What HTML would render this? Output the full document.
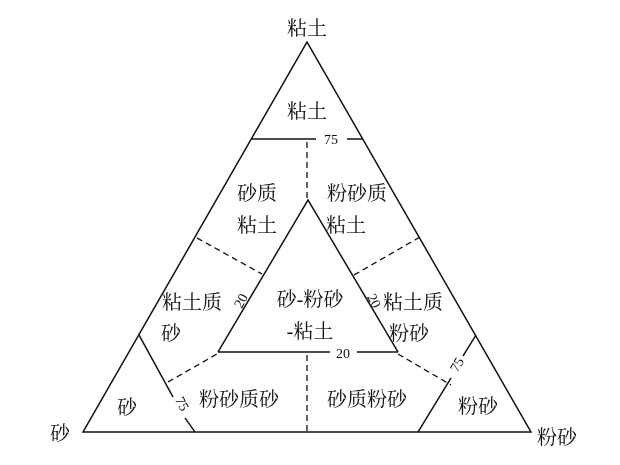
<!DOCTYPE html>
<html><head><meta charset="utf-8"><style>
html,body{margin:0;padding:0;background:#fff;}
svg{display:block}
text{font-family:"Liberation Serif","Noto Serif CJK SC","Noto Sans CJK SC",serif;fill:#111;}
</style></head><body>
<svg width="620" height="465" viewBox="0 0 620 465" xmlns="http://www.w3.org/2000/svg">
<g stroke="#111" stroke-width="1.5" fill="none">
<polygon points="307,42 83,432 531,432"/>
<line x1="251" y1="139" x2="316" y2="139"/><line x1="347" y1="139" x2="363" y2="139"/>
<polyline points="218,352 308,200 398,352"/>
<line x1="218" y1="352" x2="330" y2="352"/><line x1="357" y1="352" x2="398" y2="352"/>
<line x1="139" y1="335" x2="173" y2="397"/><line x1="185" y1="418" x2="195" y2="432"/>
<line x1="476" y1="335" x2="463" y2="356"/><line x1="451" y1="378" x2="418" y2="432"/>
</g>
<g stroke="#111" stroke-width="1.3" fill="none" stroke-dasharray="6,4">
<line x1="307" y1="142" x2="307" y2="200"/>
<line x1="307" y1="355" x2="307" y2="432"/>
<line x1="197" y1="238" x2="262" y2="274"/>
<line x1="354" y1="275" x2="420" y2="237"/>
<line x1="168" y1="382" x2="217" y2="354"/>
<line x1="398" y1="354" x2="451" y2="385"/>
</g>
<g font-size="20" text-anchor="middle">
<text x="307" y="35">粘土</text>
<text x="307" y="118">粘土</text>
<text x="257" y="200">砂质</text><text x="257" y="232">粘土</text>
<text x="357" y="200">粉砂质</text><text x="346" y="232">粘土</text>
<text x="192" y="309">粘土质</text><text x="171" y="340">砂</text>
<text x="310" y="306">砂-粉砂</text><text x="310" y="338">-粘土</text>
<text x="413" y="309">粘土质</text><text x="409" y="340">粉砂</text>
<text x="127" y="414">砂</text>
<text x="239" y="406">粉砂质砂</text>
<text x="367" y="406">砂质粉砂</text>
<text x="478" y="413">粉砂</text>
<text x="60" y="440">砂</text>
<text x="557" y="444">粉砂</text>
</g>
<g font-size="14" text-anchor="middle">
<text x="331" y="144">75</text>
<text x="343" y="358">20</text>
<text transform="translate(245,303) rotate(-62)">20</text>
<text transform="translate(370,303) rotate(62)">20</text>
<text transform="translate(178,406) rotate(62)">75</text>
<text transform="translate(461,367) rotate(-60)">75</text>
</g>
</svg>
</body></html>
